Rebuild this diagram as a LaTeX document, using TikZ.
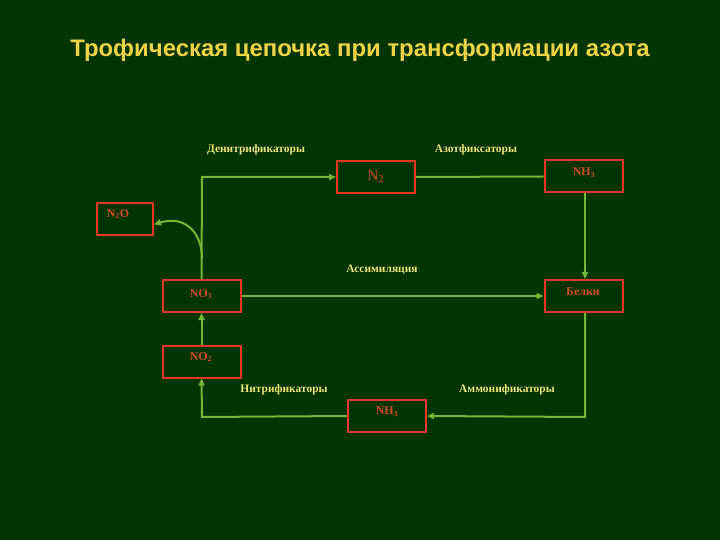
\documentclass[tikz,border=0pt]{standalone}
\usepackage{fontspec}
\setmainfont{Liberation Serif}
\newfontfamily\titlefont{Liberation Sans}
\usetikzlibrary{arrows.meta}
\definecolor{bg}{RGB}{0,52,0}
\definecolor{titlecol}{RGB}{240,210,70}
\definecolor{labcol}{RGB}{240,225,120}
\definecolor{boxline}{RGB}{230,55,35}
\definecolor{boxtext}{RGB}{215,75,35}
\definecolor{linkcol}{RGB}{115,185,55}
\begin{document}
\begin{tikzpicture}[x=1bp,y=-1bp,
  sbox/.style={draw=boxline,line width=2bp,fill=bg,minimum width=#1,minimum height=32bp,inner sep=0pt},
  sbox/.default=78bp,
  btxt/.style={text=boxtext,font=\bfseries\fontsize{12}{14}\selectfont},
  lab/.style={text=labcol,font=\bfseries\fontsize{11.5}{13}\selectfont},
  link/.style={draw=linkcol,line width=2bp},
  arr/.style={link,-{Triangle[length=7bp,width=6bp]}}]
\fill[bg] (0,0) rectangle (720,540);
\useasboundingbox (0,0) rectangle (720,540);
\node[text=titlecol,font=\titlefont\bfseries\fontsize{24}{28}\selectfont] (title) at (360,50) {Трофическая цепочка при трансформации азота};
% boxes
\node[sbox] (n2) at (376,177) {};
\node[sbox] (nh3t) at (583.5,176.5) {};
\node[sbox=56bp] (n2o) at (125,219.5) {};
\node[sbox] (no3) at (201.5,296) {};
\node[sbox] (bel) at (583.5,296) {};
\node[sbox] (no2) at (201.5,361.5) {};
\node[sbox] (nh3b) at (387,416) {};
% box texts
\node[btxt,font=\fontsize{15}{17}\selectfont] (tn2) at (376,177) {N\textsubscript{2}};
\node[btxt] (tnh3t) at (584,173) {NH\textsubscript{3}};
\node[btxt] (tn2o) at (118,214) {N\textsubscript{2}O};
\node[btxt] (tno3) at (201,294) {NO\textsubscript{3}};
\node[btxt] (tbel) at (583,292) {Белки};
\node[btxt] (tno2) at (201,357) {NO\textsubscript{2}};
\node[btxt] (tnh3b) at (387,412) {NH\textsubscript{3}};
% labels
\node[lab] (ldenit) at (256,150) {Денитрификаторы};
\node[lab] (lazot) at (476,150) {Азотфиксаторы};
\node[lab] (lassim) at (382,270) {Ассимиляция};
\node[lab] (lnitr) at (284,390) {Нитрификаторы};
\node[lab] (lammon) at (507,390) {Аммонификаторы};
% connectors
\coordinate (c1) at (202,177);
\coordinate (c2) at (585,417);
\coordinate (c3) at (202,417);
\coordinate (c4) at (202,258);
\draw[arr] (no3.north) -- (c1) -- (n2.west);
\draw[link] (n2.east) -- (nh3t.west);
\draw[arr] (nh3t.south -| 585,0) -- (bel.north -| 585,0);
\draw[arr] (c4) .. controls (202,232) and (184,215) .. ([yshift=-5bp]n2o.east);
\draw[arr] (no3.east) -- (bel.west);
\draw[arr] (bel.south -| 585,0) -- (c2) -- (nh3b.east);
\draw[arr] (nh3b.west) -- (c3) -- (no2.south);
\draw[arr] (no2.north) -- (no3.south);
\end{tikzpicture}
\end{document}
